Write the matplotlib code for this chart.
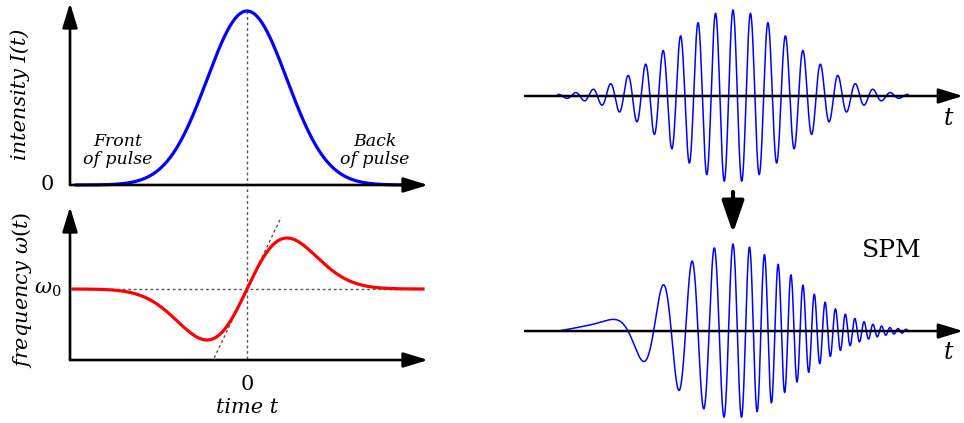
import numpy as np
import matplotlib.pyplot as plt

# time is in units of the intensity width; t = 0 is the pulse centre
intensity_span = (-4.3, 4.1)    # drawn extent of I(t)
frequency_span = (-4.35, 4.4)   # drawn extent of w(t)
pulse_sigma = 1.0               # Gaussian width of the intensity
field_sigma = 1.55              # Gaussian width of the field envelope
field_span = (-4.375, 4.375)    # drawn extent of the oscillating fields
carrier_period = 0.4375         # period of the unchirped carrier
chirp_length = 3.5              # linear chirp scale after SPM
omega0_span = (-3.675, 4.4)     # dotted w0 reference line
tangent_span = (-1.35, 1.41)    # frequency range covered by the tangent

blue = '#0000ff'
red = '#ff0000'
dot_grey = '#555555'

plt.rcParams['font.family'] = 'DejaVu Serif'
plt.rcParams['mathtext.fontset'] = 'dejavuserif'

W, H = 964, 423
fig = plt.figure(figsize=(W / 100, H / 100), dpi=100)


def panel(x0, x1, y0, y1, xlim, ylim):
    ax = fig.add_axes([x0 / W, 1 - y1 / H, (x1 - x0) / W, (y1 - y0) / H])
    ax.set_xlim(*xlim)
    ax.set_ylim(*ylim)
    ax.axis('off')
    return ax


def arrow(ax, start, tip, lw=1.9, head='-|>,head_length=0.75,head_width=0.23', scale=20):
    ax.annotate('', xy=tip, xytext=start, annotation_clip=False,
                arrowprops=dict(arrowstyle=head, lw=lw, color='black',
                                mutation_scale=scale, shrinkA=0, shrinkB=0))


dotted = dict(color=dot_grey, lw=1.0, linestyle=(0, (2, 2)))
italic = dict(style='italic')

# ---- intensity ----
t = np.linspace(*intensity_span, 800)
intensity = np.exp(-t**2 / (2 * pulse_sigma**2))

ax1 = panel(0, 440, 0, 195, (-6.175, 4.825), (-0.0575, 1.0632))
ax1.plot([0, 0], [1.0, -0.0575], **dotted)
ax1.plot(t, intensity, color=blue, lw=2.3, solid_capstyle='butt')
arrow(ax1, (-4.425, 0), (4.525, 0))
arrow(ax1, (-4.425, 0), (-4.425, 1.046))
ax1.text(-5.0, 0.0, '0', fontsize=15, ha='center', va='center')
ax1.text(-5.675, 0.52, 'intensity I(t)', fontsize=15, rotation=90,
         ha='center', va='center', **italic)
ax1.text(-3.225, 0.2, 'Front\nof pulse', fontsize=12.5, ha='center',
         va='center', linespacing=1.1, **italic)
ax1.text(3.2, 0.2, 'Back\nof pulse', fontsize=12.5, ha='center',
         va='center', linespacing=1.1, **italic)

# ---- instantaneous frequency, w(t) - w0 ~ -dI/dt ----
tw = np.linspace(*frequency_span, 800)
d_omega = (tw / pulse_sigma**2) * np.exp(-tw**2 / (2 * pulse_sigma**2))
d_omega /= d_omega.max()
slope = np.interp(0, tw, np.gradient(d_omega, tw))

ax2 = panel(0, 440, 195, 423, (-6.175, 4.825), (-2.627, 1.843))
ax2.plot([0, 0], [1.843, -1.392], **dotted)
ax2.plot(omega0_span, [0, 0], **dotted)
ax2.plot(np.array(tangent_span) / slope, tangent_span, **dotted)
ax2.plot(tw, d_omega, color=red, lw=2.3)
arrow(ax2, (-4.425, -1.392), (4.525, -1.392))
arrow(ax2, (-4.425, -1.392), (-4.425, 1.608))
ax2.text(-4.975, 0.0, r'$\omega_0$', fontsize=15, ha='center', va='center')
ax2.text(-5.63, -0.02, r'frequency $\omega(t)$', fontsize=15, rotation=90,
         ha='center', va='center', **italic)
ax2.text(0, -1.88, '0', fontsize=15, ha='center', va='center')
ax2.text(0, -2.33, 'time t', fontsize=15, ha='center', va='center', **italic)

# ---- electric field before and after SPM ----
tf = np.linspace(*field_span, 3000)
envelope = np.exp(-tf**2 / (2 * field_sigma**2))
field_in = envelope * np.cos(2 * np.pi * tf / carrier_period)
phase_out = 2 * np.pi * (tf + tf**2 / (2 * chirp_length)) / carrier_period
field_out = envelope * np.cos(phase_out)

ax3 = panel(500, 964, 0, 190, (-5.825, 5.775), (-1.093, 1.116))
ax3.plot(tf, field_in, color=blue, lw=1.1)
arrow(ax3, (-5.2, 0), (5.75, 0), lw=1.8)
ax3.text(5.375, -0.256, 't', fontsize=17, ha='center', va='center', **italic)

ax4 = panel(500, 964, 190, 423, (-5.825, 5.775), (-1.057, 1.621))
ax4.plot(tf, field_out, color=blue, lw=1.1)
arrow(ax4, (-5.2, 0), (5.75, 0), lw=1.8)
ax4.text(5.375, -0.241, 't', fontsize=17, ha='center', va='center', **italic)
ax4.text(3.975, 0.92, 'SPM', fontsize=18, ha='center', va='center')
arrow(ax4, (0, 1.598), (0, 1.126), lw=3,
      head='-|>,head_length=1.3,head_width=0.45', scale=15)

fig.savefig('out.png', dpi=100)
